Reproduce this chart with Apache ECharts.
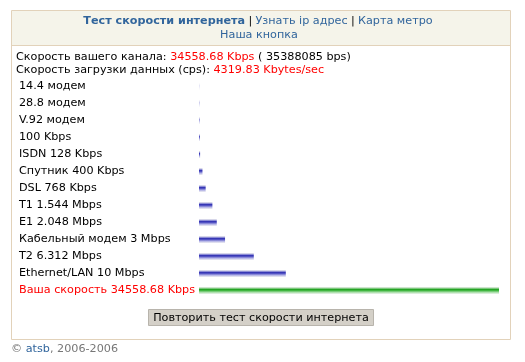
<!DOCTYPE html>
<html>
<head>
<meta charset="utf-8">
<script src="https://cdn.jsdelivr.net/npm/echarts@6/dist/echarts.min.js"></script>
<style>
html,body{margin:0;padding:0;background:#fff;}
#chart{width:525px;height:362px;}
</style>
</head>
<body>
<div id="chart"></div>
<script>
var categories = ['14.4 модем','28.8 модем','V.92 модем','100 Kbps','ISDN 128 Kbps','Спутник 400 Kbps','DSL 768 Kbps','T1 1.544 Mbps','E1 2.048 Mbps','Кабельный модем 3 Mbps','T2 6.312 Mbps','Ethernet/LAN 10 Mbps','Ваша скорость 34558.68 Kbps'];
var speedsKbps = [14.4, 28.8, 56, 100, 128, 400, 768, 1544, 2048, 3000, 6312, 10000, 34558.68];
var yourSpeedKbps = 34558.68;
var yourSpeedBps = 35388085;
var downloadKBs = 4319.83;

var FONT = 'DejaVu Sans';
var FS = 11.2;
var chart = echarts.init(document.getElementById('chart'), null, {renderer:'canvas'});

function grad(c) {
  return new echarts.graphic.LinearGradient(0,0,0,1,[
    {offset:0, color:'#e6e6e6'},
    {offset:0.15, color:c[0]},
    {offset:0.32, color:c[1]},
    {offset:0.5, color:c[2]},
    {offset:0.68, color:c[3]},
    {offset:0.85, color:c[4]},
    {offset:1, color:'#ececec'}
  ]);
}
var blue = grad(['#c4c4ec','#3030b0','#5252c4','#9898dc','#d0d0f0']);
var green = grad(['#b4e2b4','#1e9e1e','#40b640','#88d088','#c8ecc8']);

var catData = categories.map(function(c, i){
  return i === categories.length - 1 ? {value:c, textStyle:{color:'#ff0000', align:'left'}} : c;
});
var barData = speedsKbps.map(function(v, i){
  return {value:v, itemStyle:{color: i === speedsKbps.length - 1 ? green : blue}};
});

chart.setOption({
  animation:false,
  grid:{left:199, width:300, top:78, height:221, containLabel:false, outerBoundsMode:'none'},
  xAxis:{type:'value', min:0, max:yourSpeedKbps, show:false},
  yAxis:{
    type:'category', inverse:true, data:catData,
    axisLine:{show:false}, axisTick:{show:false}, splitLine:{show:false},
    axisLabel:{align:'left', margin:180, color:'#000', fontSize:FS, fontFamily:FONT, interval:0}
  },
  series:[{type:'bar', data:barData, barWidth:7, silent:true}],
  graphic:[
    {type:'rect', z:-10, shape:{x:11.5, y:10.5, width:499, height:329}, style:{fill:'#fff', stroke:'#e2d2ba', lineWidth:1}},
    {type:'rect', z:-9, shape:{x:12, y:11, width:498, height:34}, style:{fill:'#f5f4ea'}},
    {type:'line', z:-8, shape:{x1:12, y1:45.5, x2:510, y2:45.5}, style:{stroke:'#e2d2ba', lineWidth:1}},
    {type:'text', x:258, y:21, style:{
      text:'{b|Тест скорости интернета} {p||} {l|Узнать ip адрес} {p||} {l|Карта метро}',
      align:'center', verticalAlign:'middle',
      rich:{
        b:{fontFamily:FONT, fontSize:FS, fontWeight:'bold', fill:'#31659c'},
        l:{fontFamily:FONT, fontSize:FS, fill:'#31659c'},
        p:{fontFamily:FONT, fontSize:FS, fill:'#000'}
      }
    }},
    {type:'text', x:259, y:35, style:{text:'Наша кнопка', fontFamily:FONT, fontSize:FS, fill:'#31659c', align:'center', verticalAlign:'middle'}},
    {type:'text', x:16, y:57, style:{
      text:'{n|Скорость вашего канала: }{r|' + yourSpeedKbps.toFixed(2) + ' Kbps}{n| ( ' + yourSpeedBps + ' bps)}',
      verticalAlign:'middle',
      rich:{n:{fontFamily:FONT, fontSize:FS, fill:'#000'}, r:{fontFamily:FONT, fontSize:FS, fill:'#ff0000'}}
    }},
    {type:'text', x:16, y:70, style:{
      text:'{n|Скорость загрузки данных (cps): }{r|' + downloadKBs.toFixed(2) + ' Kbytes/sec}',
      verticalAlign:'middle',
      rich:{n:{fontFamily:FONT, fontSize:FS, fill:'#000'}, r:{fontFamily:FONT, fontSize:FS, fill:'#ff0000'}}
    }},
    {type:'rect', shape:{x:148.5, y:309.5, width:225, height:16}, style:{fill:'#d4d0c8', stroke:'#b8b4ac', lineWidth:1}},
    {type:'text', x:261, y:318, style:{text:'Повторить тест скорости интернета', fontFamily:FONT, fontSize:FS, fill:'#000', align:'center', verticalAlign:'middle'}},
    {type:'text', x:11, y:349, style:{
      text:'{g|© }{a|atsb}{g|, 2006-2006}',
      verticalAlign:'middle',
      rich:{g:{fontFamily:FONT, fontSize:FS, fill:'#777'}, a:{fontFamily:FONT, fontSize:FS, fill:'#31659c'}}
    }}
  ]
});
</script>
</body>
</html>
